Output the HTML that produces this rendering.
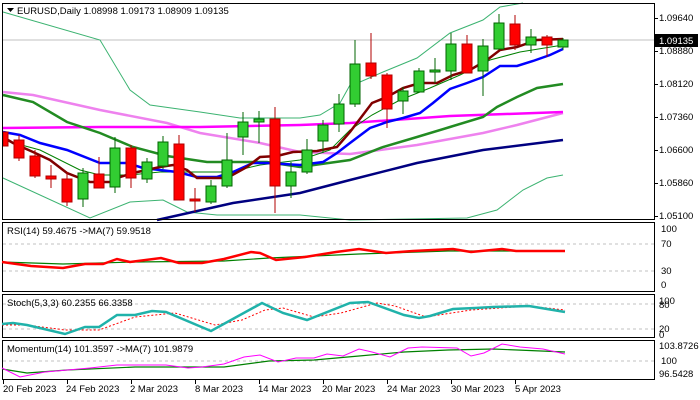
<!DOCTYPE html><html><head><style>body{margin:0;background:#fff}svg{display:block;font-family:"Liberation Sans",sans-serif;font-size:9.5px}</style></head><body>
<svg width="700" height="400" xmlns="http://www.w3.org/2000/svg">
<rect width="700" height="400" fill="#fff"/>
<g fill="none">
<line x1="3" y1="40" x2="655" y2="40" stroke="#c0c0c0"/>
<polyline stroke="#3cb371" stroke-width="1" points="3,12 100,40 130,90 150,105 200,112 240,118 300,118 320,115 340,103 350,85 360,82 383,72 417,58 450,33 483,20 500,7 523,3"/>
<polyline stroke="#3cb371" stroke-width="1" points="3,178 90,218 130,202 163,200 187,212 217,215 300,215 350,220 467,218 497,210 523,190 547,178 563,175"/>
<polyline stroke="#000080" stroke-width="2.5" points="157,220 233,203 300,193 350,180 417,163 483,150 563,140"/>
<polyline stroke="#ee82ee" stroke-width="2.5" points="3,92 33,95 100,110 167,123 200,133 260,143 300,152 350,154 417,145 483,133 517,125 563,113"/>
<polyline stroke="#ff00ff" stroke-width="2.5" points="3,128 100,127 200,127 300,125 350,123 450,116 563,112"/>
<polyline stroke="#228b22" stroke-width="2.5" points="3,95 33,102 67,122 100,133 133,147 167,156 207,162 267,162 300,167 350,160 383,147 417,137 450,127 483,117 497,107 517,97 537,88 563,84"/>
<polyline stroke="#008000" stroke-width="1" points="3,140 40,150 80,170 100,175 130,175 160,172 200,172 230,172 260,165 300,160 330,150 350,130 372,115 400,100 430,88 460,75 490,60 520,52 563,45"/>
<polyline stroke="#0000ff" stroke-width="2.5" points="3,132 20,135 40,143 67,150 100,163 127,163 143,168 177,172 197,177 217,177 233,172 253,163 267,163 300,165 323,162 337,153 350,143 370,128 387,122 403,118 420,113 433,103 450,89 467,83 483,77 500,66 517,66 533,61 550,55 563,49"/>
<polyline stroke="#800000" stroke-width="2.5" points="3,137 13,143 33,152 50,160 67,173 90,182 110,182 120,177 133,173 160,167 173,165 187,170 197,178 227,178 247,167 260,157 277,156 293,152 317,151 337,147 350,132 372,103 387,97 403,88 420,83 437,83 453,75 470,70 487,60 500,50 517,47 537,40 563,39"/>
</g>
<g stroke-width="1">
<!-- candles: x, wickTop, wickBot, bodyTop, bodyBot, green? -->
<g stroke="#b00000" fill="#ff0000">
<rect x="3" y="132" width="5" height="14"/>
<line x1="19" y1="135" x2="19" y2="161"/><rect x="14" y="140" width="10" height="18"/>
<line x1="35" y1="150" x2="35" y2="178"/><rect x="30" y="156" width="10" height="20"/>
<line x1="51" y1="165" x2="51" y2="188"/><rect x="46" y="176" width="10" height="3"/>
<line x1="67" y1="172" x2="67" y2="206"/><rect x="62" y="179" width="10" height="23"/>
<line x1="99" y1="157" x2="99" y2="188"/><rect x="94" y="174" width="10" height="14"/>
<line x1="131" y1="145" x2="131" y2="188"/><rect x="126" y="148" width="10" height="30"/>
<line x1="179" y1="135" x2="179" y2="200"/><rect x="174" y="144" width="10" height="56"/>
<line x1="195" y1="188" x2="195" y2="212"/><rect x="190" y="199" width="10" height="2"/>
<line x1="275" y1="107" x2="275" y2="213"/><rect x="270" y="119" width="10" height="67"/>
<line x1="371" y1="33" x2="371" y2="79"/><rect x="366" y="63" width="10" height="13"/>
<line x1="387" y1="73" x2="387" y2="128"/><rect x="382" y="75" width="10" height="34"/>
<line x1="467" y1="35" x2="467" y2="73"/><rect x="462" y="44" width="10" height="29"/>
<line x1="515" y1="15" x2="515" y2="50"/><rect x="510" y="24" width="10" height="21"/>
<line x1="547" y1="35" x2="547" y2="57"/><rect x="542" y="37" width="10" height="8"/>
</g>
<g stroke="#006400" fill="#32cd32">
<line x1="83" y1="168" x2="83" y2="207"/><rect x="78" y="173" width="10" height="26"/>
<line x1="115" y1="137" x2="115" y2="193"/><rect x="110" y="148" width="10" height="39"/>
<line x1="147" y1="158" x2="147" y2="183"/><rect x="142" y="162" width="10" height="17"/>
<line x1="163" y1="136" x2="163" y2="169"/><rect x="158" y="142" width="10" height="24"/>
<line x1="211" y1="180" x2="211" y2="204"/><rect x="206" y="186" width="10" height="16"/>
<line x1="227" y1="133" x2="227" y2="188"/><rect x="222" y="160" width="10" height="26"/>
<line x1="243" y1="112" x2="243" y2="155"/><rect x="238" y="122" width="10" height="15"/>
<line x1="259" y1="111" x2="259" y2="143"/><rect x="254" y="119" width="10" height="3"/>
<line x1="291" y1="162" x2="291" y2="198"/><rect x="286" y="172" width="10" height="14"/>
<line x1="307" y1="139" x2="307" y2="174"/><rect x="302" y="150" width="10" height="22"/>
<line x1="323" y1="120" x2="323" y2="153"/><rect x="318" y="125" width="10" height="16"/>
<line x1="339" y1="94" x2="339" y2="132"/><rect x="334" y="104" width="10" height="20"/>
<line x1="355" y1="40" x2="355" y2="107"/><rect x="350" y="64" width="10" height="40"/>
<line x1="403" y1="87" x2="403" y2="114"/><rect x="398" y="91" width="10" height="10"/>
<line x1="419" y1="68" x2="419" y2="92"/><rect x="414" y="71" width="10" height="21"/>
<line x1="435" y1="58" x2="435" y2="83"/><rect x="430" y="70" width="10" height="2"/>
<line x1="451" y1="33" x2="451" y2="80"/><rect x="446" y="44" width="10" height="27"/>
<line x1="483" y1="39" x2="483" y2="96"/><rect x="478" y="46" width="10" height="25"/>
<line x1="499" y1="14" x2="499" y2="49"/><rect x="494" y="23" width="10" height="26"/>
<line x1="531" y1="29" x2="531" y2="53"/><rect x="526" y="37" width="10" height="8"/>
<line x1="563" y1="38" x2="563" y2="50"/><rect x="558" y="40" width="10" height="7"/>
</g>
</g>
<!-- panels -->
<g fill="none" stroke="#000">
<rect x="2.5" y="3.5" width="652" height="216"/>
<rect x="2.5" y="222.5" width="652" height="69"/>
<rect x="2.5" y="294.5" width="652" height="43"/>
<rect x="2.5" y="340.5" width="652" height="39"/>
</g>
<g stroke="#c0c0c0" stroke-dasharray="3,3">
<line x1="3" y1="244" x2="654" y2="244"/><line x1="3" y1="271" x2="654" y2="271"/>
<line x1="3" y1="304" x2="654" y2="304"/><line x1="3" y1="329" x2="654" y2="329"/>
<line x1="3" y1="361" x2="654" y2="361"/>
</g>
<g fill="none">
<polyline stroke="#008000" stroke-width="1.2" points="2,262 63,264 135,262 224,261 269,258 359,254 448,251 565,251"/>
<polyline stroke="#ff0000" stroke-width="2.5" points="2,262 31,266 63,268 85,264 103,264 117,259 130,262 161,258 179,263 202,263 224,259 251,252 260,253 276,260 305,257 336,252 359,249 386,253 413,251 453,249 471,252 502,249 516,251 565,251"/>
<polyline stroke="#ff0000" stroke-width="1" stroke-dasharray="2,2" points="2,325 27,325 65,330 99,330 135,317 175,313 215,325 242,320 265,310 283,308 314,317 341,313 377,303 395,306 426,317 471,310 529,306 565,310"/>
<polyline stroke="#20b2aa" stroke-width="2.5" points="2,324 13,323 27,325 65,334 85,327 99,327 117,315 135,315 152,311 166,312 211,331 262,303 283,313 307,320 350,303 368,302 404,315 419,318 430,316 453,309 475,308 493,307 529,306 565,312"/>
<polyline stroke="#008000" stroke-width="1.2" points="2,369 27,373 67,370 135,367 224,367 269,361 314,360 359,356 404,352 448,350 493,349 565,352"/>
<polyline stroke="#ff00ff" stroke-width="1" points="2,368 20,377 45,372 90,368 117,365 166,365 188,368 202,367 224,364 244,357 260,355 278,362 296,358 314,358 327,354 343,356 359,349 372,352 390,357 408,348 422,347 457,348 471,356 484,353 502,344 520,347 543,349 565,354"/>
</g>
<g fill="#000">
<path d="M7,8 h7 l-3.5,4 z"/>
<text x="17" y="14">EURUSD,Daily  1.08998 1.09173 1.08909 1.09135</text>
<text x="7" y="234">RSI(14) 59.4675  -&gt;MA(7) 59.9518</text>
<text x="7" y="306">Stoch(5,3,3) 60.2355 66.3358</text>
<text x="7" y="352">Momentum(14) 101.3597  -&gt;MA(7) 101.9879</text>
<text x="659" y="21">1.09640</text>
<text x="659" y="54">1.08880</text>
<text x="659" y="87">1.08120</text>
<text x="659" y="120">1.07360</text>
<text x="659" y="153">1.06600</text>
<text x="659" y="186">1.05860</text>
<text x="659" y="219">1.05100</text>
<rect x="655" y="34" width="43" height="13"/>
<text x="659" y="44" fill="#fff">1.09135</text>
<text x="661" y="232">100</text><text x="661" y="247">70</text><text x="661" y="274">30</text><text x="661" y="288">0</text>
<text x="659" y="304">100</text><text x="659" y="308">80</text><text x="659" y="332">20</text><text x="659" y="338">0</text>
<text x="659" y="349">103.8726</text><text x="661" y="364">100</text><text x="659" y="377">96.5428</text>
<g>
<text x="3" y="392">20 Feb 2023</text><text x="66" y="392">24 Feb 2023</text><text x="130" y="392">2 Mar 2023</text><text x="195" y="392">8 Mar 2023</text><text x="258" y="392">14 Mar 2023</text><text x="322" y="392">20 Mar 2023</text><text x="387" y="392">24 Mar 2023</text><text x="451" y="392">30 Mar 2023</text><text x="515" y="392">5 Apr 2023</text>
</g>
</g>
<g stroke="#000"><line x1="3.5" y1="380" x2="3.5" y2="384"/><line x1="67.5" y1="380" x2="67.5" y2="384"/><line x1="131.5" y1="380" x2="131.5" y2="384"/><line x1="195.5" y1="380" x2="195.5" y2="384"/><line x1="259.5" y1="380" x2="259.5" y2="384"/><line x1="323.5" y1="380" x2="323.5" y2="384"/><line x1="387.5" y1="380" x2="387.5" y2="384"/><line x1="451.5" y1="380" x2="451.5" y2="384"/><line x1="515.5" y1="380" x2="515.5" y2="384"/>
<line x1="655" y1="18.5" x2="658" y2="18.5"/><line x1="655" y1="51.5" x2="658" y2="51.5"/><line x1="655" y1="84.5" x2="658" y2="84.5"/><line x1="655" y1="117.5" x2="658" y2="117.5"/><line x1="655" y1="150.5" x2="658" y2="150.5"/><line x1="655" y1="183.5" x2="658" y2="183.5"/><line x1="655" y1="216.5" x2="658" y2="216.5"/></g>
</svg></body></html>
